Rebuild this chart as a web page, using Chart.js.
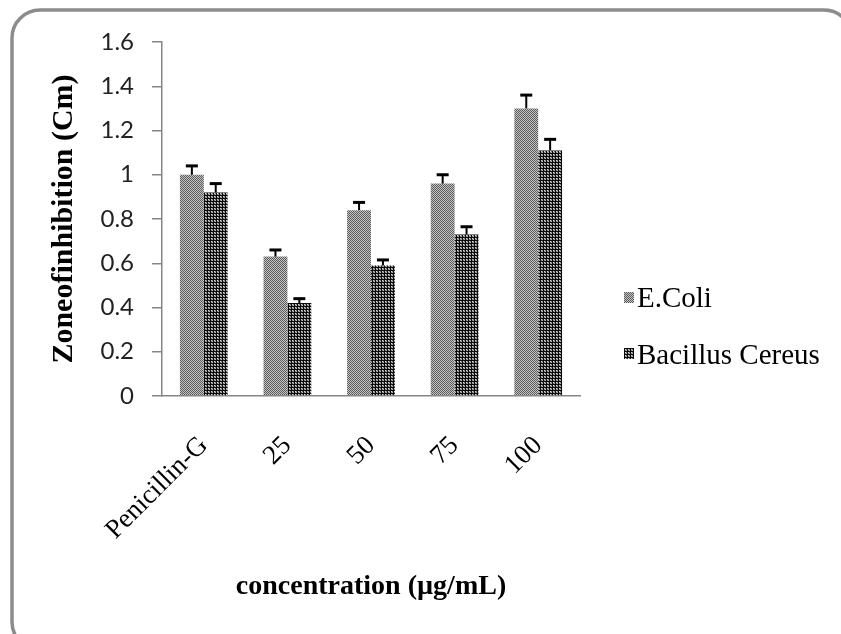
<!DOCTYPE html>
<html>
<head>
<meta charset="utf-8">
<script src="https://cdn.jsdelivr.net/npm/chart.js@4.4.1/dist/chart.umd.min.js"></script>
<style>
  html, body { margin: 0; padding: 0; background: #fff; }
  #wrap { width: 841px; height: 634px; }
</style>
</head>
<body>
<div id="wrap"><canvas id="chart" width="841" height="634"></canvas></div>
<script>
// data
const categories = ['Penicillin-G', '25', '50', '75', '100'];
const ecoli = [1.00, 0.63, 0.84, 0.96, 1.30];
const ecoliErr = [0.04, 0.03, 0.035, 0.04, 0.06];
const bacillus = [0.92, 0.42, 0.59, 0.73, 1.11];
const bacillusErr = [0.04, 0.02, 0.025, 0.035, 0.05];
const yTicks = [0, 0.2, 0.4, 0.6, 0.8, 1, 1.2, 1.4, 1.6];

const SERIF = '"Liberation Serif", "Times New Roman", serif';
Chart.defaults.font.family = SERIF;

function makePattern(cells, size)
{
   var c = document.createElement('canvas');
   c.width = size; c.height = size;
   var g = c.getContext('2d');
   for (var y = 0; y < size; y++)
      for (var x = 0; x < size; x++)
      {
         g.fillStyle = cells[y][x];
         g.fillRect(x, y, 1, 1);
      }
   return g.createPattern(c, 'repeat');
}

const lightPattern = makePattern([
   ['#5c5c5c', '#c4c4c4'],
   ['#c4c4c4', '#5c5c5c']
], 2);
const darkPattern = makePattern([
   ['#0a0a0a', '#0a0a0a', '#0a0a0a'],
   ['#0a0a0a', '#d8d8d8', '#7a7a7a'],
   ['#0a0a0a', '#7a7a7a', '#b8b8b8']
], 3);

// rounded frame round the whole figure
const framePlugin = {
   id: 'frame',
   beforeDraw(chart) {
      const ctx = chart.ctx;
      ctx.save();
      ctx.fillStyle = '#fff';
      ctx.fillRect(0, 0, chart.width, chart.height);
      ctx.strokeStyle = '#8c8c8c';
      ctx.lineWidth = 3.5;
      ctx.beginPath();
      ctx.roundRect(12, 10, 840, 640, 28);
      ctx.stroke();
      ctx.restore();
   }
};

// upward error bars
const errorPlugin = {
   id: 'errbars',
   afterDatasetsDraw(chart) {
      const ctx = chart.ctx;
      const yScale = chart.scales.y;
      ctx.save();
      ctx.strokeStyle = '#000';
      chart.data.datasets.forEach(function (ds, di) {
         const meta = chart.getDatasetMeta(di);
         meta.data.forEach(function (bar, i) {
            const top = yScale.getPixelForValue(ds.data[i] + ds.errors[i]);
            ctx.lineWidth = 2;
            ctx.beginPath();
            ctx.moveTo(bar.x, bar.y);
            ctx.lineTo(bar.x, top);
            ctx.stroke();
            ctx.lineWidth = 3;
            ctx.beginPath();
            ctx.moveTo(bar.x - 6, top);
            ctx.lineTo(bar.x + 6, top);
            ctx.stroke();
         });
      });
      ctx.restore();
   }
};

// legend on the right, like the original
const legendPlugin = {
   id: 'sideLegend',
   afterDraw(chart) {
      const ctx = chart.ctx;
      const rows = [{ box: 292, text: 307 }, { box: 348, text: 364 }];
      ctx.save();
      ctx.font = '29px ' + SERIF;
      ctx.textBaseline = 'alphabetic';
      chart.data.datasets.forEach(function (ds, i) {
         ctx.fillStyle = ds.backgroundColor;
         ctx.fillRect(624, rows[i].box, 10, 11);
         ctx.fillStyle = '#000';
         ctx.fillText(ds.label, 637, rows[i].text);
      });
      ctx.restore();
   }
};

new Chart(document.getElementById('chart'),
{
   type: 'bar',
   data: {
      labels: categories,
      datasets: [
         { label: 'E.Coli', data: ecoli, errors: ecoliErr, backgroundColor: lightPattern },
         { label: 'Bacillus Cereus', data: bacillus, errors: bacillusErr, backgroundColor: darkPattern }
      ]
   },
   options: {
      responsive: false,
      animation: false,
      devicePixelRatio: 1,
      categoryPercentage: 0.571,
      barPercentage: 1.0,
      layout: { padding: { left: 0, right: 261, top: 42, bottom: 0 } },
      plugins: {
         legend: { display: false },
         tooltip: { enabled: false }
      },
      scales: {
         x: {
            grid: { display: false },
            border: { display: true, color: '#868686', width: 1.5 },
            ticks: {
               minRotation: 45,
               maxRotation: 45,
               autoSkip: false,
               padding: 26,
               color: '#000',
               font: { family: SERIF, size: 27 }
            },
            title: {
               display: true,
               text: 'concentration (µg/mL)',
               color: '#000',
               padding: { top: 0, bottom: 30 },
               font: { family: SERIF, size: 28, weight: 'bold' }
            },
            afterFit: function (scale) { scale.height = 238; }
         },
         y: {
            min: 0,
            max: 1.6,
            afterBuildTicks: function (scale) {
               scale.ticks = yTicks.map(function (v) { return { value: v }; });
            },
            grid: {
               drawOnChartArea: false,
               drawTicks: true,
               tickLength: 10,
               color: '#868686',
               lineWidth: 1.5
            },
            border: { display: true, color: '#868686', width: 1.5 },
            ticks: {
               padding: 18,
               color: '#222',
               font: { family: 'Lato, "Open Sans", sans-serif', size: 24 },
               callback: function (v) { return String(v); }
            },
            title: {
               display: true,
               text: 'Zoneofinhibition (Cm)',
               color: '#000',
               padding: { top: 46, bottom: 0 },
               font: { family: SERIF, size: 30, weight: 'bold' }
            },
            afterFit: function (scale) { scale.width = 162; }
         }
      }
   },
   plugins: [framePlugin, errorPlugin, legendPlugin]
});
</script>
</body>
</html>
